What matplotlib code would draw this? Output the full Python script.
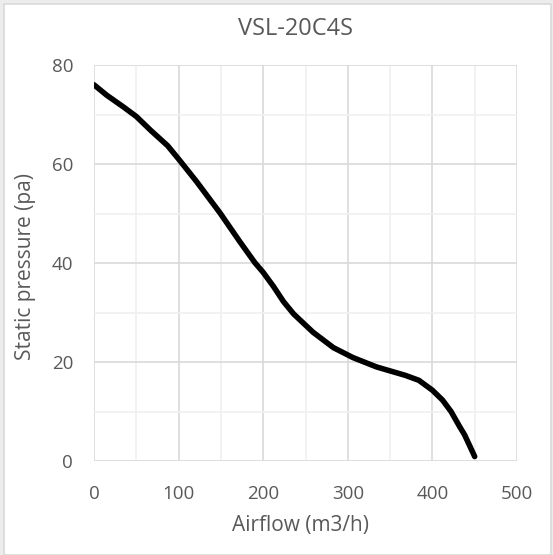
import numpy as np
import matplotlib
matplotlib.use('Agg')
import matplotlib.pyplot as plt
from matplotlib.patches import Rectangle

plt.rcParams['font.family'] = ['Open Sans', 'DejaVu Sans']

airflow = [0, 15, 35, 50, 67, 87, 100, 121, 149, 172, 190, 200, 212, 224, 236,
           259, 283, 306, 334, 350, 368, 384, 400, 412, 422, 432, 438, 450]
pressure = [76.0, 73.9, 71.5, 69.6, 66.8, 63.7, 61.0, 56.5, 50.1, 44.4, 40.1,
            38.1, 35.3, 32.2, 29.7, 26.0, 22.9, 20.9, 19.0, 18.2, 17.3, 16.3,
            14.3, 12.3, 10.0, 7.0, 5.3, 0.9]

title = 'VSL-20C4S'
xlabel = 'Airflow (m3/h)'
ylabel = 'Static pressure (pa)'
txt = '#595959'

W, H = 553, 555
fig = plt.figure(figsize=(W / 100, H / 100), dpi=100)
fig.patch.set_facecolor('#ececec')
fig.patches.append(Rectangle((4 / W, 0), 547 / W, 551 / H, transform=fig.transFigure,
                             facecolor='white', edgecolor='#d9d9d9', lw=1.2, zorder=-10))

ax = fig.add_axes([94 / W, 1 - 461 / H, 423 / W, 396 / H])
ax.set_facecolor('white')
ax.plot(airflow, pressure, color='black', lw=4, solid_capstyle='round',
        solid_joinstyle='round', zorder=3)

ax.set_xlim(0, 500)
ax.set_ylim(0, 80)
ax.set_xticks(np.arange(0, 501, 100))
ax.set_yticks(np.arange(0, 81, 20))
ax.set_xticks(np.arange(0, 501, 50), minor=True)
ax.set_yticks(np.arange(0, 81, 10), minor=True)
ax.grid(True, which='major', color='#d9d9d9', lw=1.2)
ax.grid(True, which='minor', color='#f0f0f0', lw=1.2)
ax.set_axisbelow(True)
for s in ax.spines.values():
    s.set_visible(False)
ax.tick_params(which='both', length=0, labelsize=13.5, colors=txt)
ax.tick_params(axis='x', pad=17)
ax.tick_params(axis='y', pad=15)

# title and axis titles placed like the Excel chart
fig.text(295 / W, 1 - 29 / H, title, fontsize=17, color=txt, ha='center', va='center')
fig.text(300 / W, 1 - 525 / H, xlabel, fontsize=15, color=txt, ha='center', va='center')
fig.text(26 / W, 1 - 266 / H, ylabel, fontsize=15, color=txt, ha='center', va='center',
         rotation=90)

fig.savefig('out.png', dpi=100, facecolor=fig.get_facecolor())
